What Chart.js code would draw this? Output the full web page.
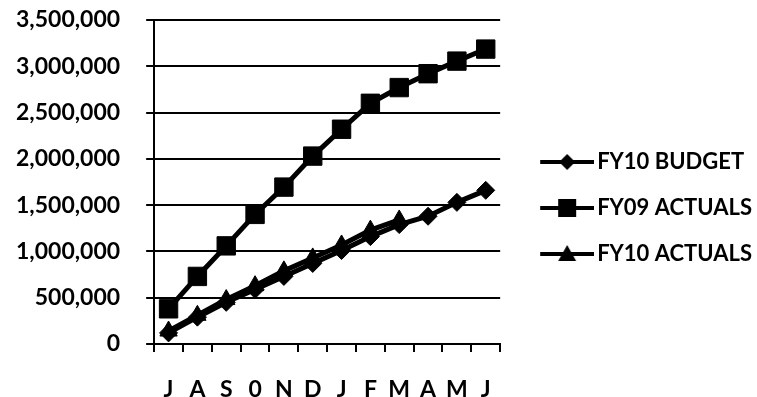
<!DOCTYPE html>
<html>
<head>
<meta charset="utf-8">
<script src="https://cdn.jsdelivr.net/npm/chart.js@4"></script>
<style>
  html, body { margin: 0; padding: 0; background: #fff; }
  #wrap { width: 757px; height: 397px; position: relative; }
</style>
</head>
<body>
<div id="wrap"><canvas id="c"></canvas></div>
<script>
// Fiscal-year months, July through June
const months = ['J', 'A', 'S', '0', 'N', 'D', 'J', 'F', 'M', 'A', 'M', 'J'];

// Cumulative amounts per month
const fy10Budget  = [120000, 290000, 450000, 590000, 730000, 870000, 1010000, 1160000, 1290000, 1380000, 1530000, 1660000];
const fy09Actuals = [380000, 730000, 1060000, 1400000, 1695000, 2030000, 2320000, 2600000, 2770000, 2920000, 3056000, 3186000];
const fy10Actuals = [140000, 310000, 480000, 630000, 790000, 930000, 1070000, 1230000, 1340000, null, null, null];

// Value axis range
const yMin = 0;
const yMax = 3500000;
const yStep = 500000;

const seriesNames = ['FY10 BUDGET', 'FY09 ACTUALS', 'FY10 ACTUALS'];

const FONT = 'Lato, "Open Sans", sans-serif';
const Y_LABEL_GAP = 26;
const X_LABEL_GAP = 24;

// Legend samples: a short thick line with the series marker in the middle.
// The canvas carries a blank left margin so the sample sits away from the plot.
function legendSample(kind) {
  const w = 78, h = 22, x0 = 24;
  const cv = document.createElement('canvas');
  cv.width = w; cv.height = h;
  const g = cv.getContext('2d');
  g.fillStyle = '#000';
  g.strokeStyle = '#000';
  g.lineWidth = 4;
  g.beginPath(); g.moveTo(x0, h / 2); g.lineTo(w, h / 2); g.stroke();
  const cx = (x0 + w) / 2, cy = h / 2;
  g.beginPath();
  if (kind === 'diamond') {
    g.moveTo(cx, cy - 8); g.lineTo(cx + 8, cy); g.lineTo(cx, cy + 8); g.lineTo(cx - 8, cy);
  } else if (kind === 'square') {
    g.rect(cx - 9, cy - 9, 18, 18);
  } else {
    g.moveTo(cx, cy - 9); g.lineTo(cx + 9, cy + 7); g.lineTo(cx - 9, cy + 7);
  }
  g.closePath(); g.fill();
  return cv;
}
const legendImages = [legendSample('diamond'), legendSample('square'), legendSample('triangle')];

function lineSet(label, data, style, radius) {
  return {
    label: label,
    data: data,
    borderColor: '#000',
    backgroundColor: '#000',
    borderWidth: 5,
    pointStyle: style,
    pointRadius: radius,
    pointHoverRadius: radius,
    pointBorderWidth: 1,
    pointBorderColor: '#000',
    pointBackgroundColor: '#000',
    tension: 0,
    spanGaps: false
  };
}

new Chart(document.getElementById('c'), {
  type: 'line',
  data: {
    labels: months,
    datasets: [
      lineSet(seriesNames[0], fy10Budget, 'rectRot', 9),
      lineSet(seriesNames[1], fy09Actuals, 'rect', 13),
      lineSet(seriesNames[2], fy10Actuals, 'triangle', 10)
    ]
  },
  options: {
    responsive: true,
    maintainAspectRatio: false,
    animation: false,
    layout: { autoPadding: false, padding: { left: 16, right: -5, top: 0, bottom: 0 } },
    plugins: {
      tooltip: { enabled: false },
      legend: {
        position: 'right',
        align: 'center',
        maxWidth: 300,
        title: { display: true, text: '', padding: 2.3 },
        labels: {
          usePointStyle: true,
          pointStyleWidth: 62,
          padding: 24,
          color: '#000',
          font: { family: FONT, size: 22, weight: 'bold' },
          generateLabels: function (chart) {
            const items = Chart.defaults.plugins.legend.labels.generateLabels(chart);
            items.forEach(function (it, i) { it.pointStyle = legendImages[i]; });
            return items;
          }
        }
      }
    },
    scales: {
      x: {
        type: 'category',
        offset: true,
        border: { color: '#000', width: 2 },
        grid: {
          offset: true,
          drawOnChartArea: false,
          drawTicks: true,
          tickLength: 8,
          color: '#000',
          lineWidth: 2
        },
        ticks: {
          color: '#000',
          padding: X_LABEL_GAP,
          maxRotation: 0,
          autoSkip: false,
          font: { family: FONT, size: 23, weight: 'bold' }
        },
        afterFit: function (scale) { scale.height = 53; }
      },
      y: {
        min: yMin,
        max: yMax,
        border: { color: '#000', width: 2 },
        grid: {
          color: '#000',
          lineWidth: 2,
          drawTicks: true,
          tickLength: 8
        },
        ticks: {
          stepSize: yStep,
          color: '#000',
          padding: Y_LABEL_GAP,
          font: { family: FONT, size: 23, weight: 'bold' },
          callback: function (v) { return v.toLocaleString('en-US'); }
        },
        afterFit: function (scale) {
          // keep the label gap on the axis side only
          scale.width -= Y_LABEL_GAP;
          scale.paddingTop = 20;
          scale.paddingBottom = 0;
        }
      }
    }
  }
});
</script>
</body>
</html>
